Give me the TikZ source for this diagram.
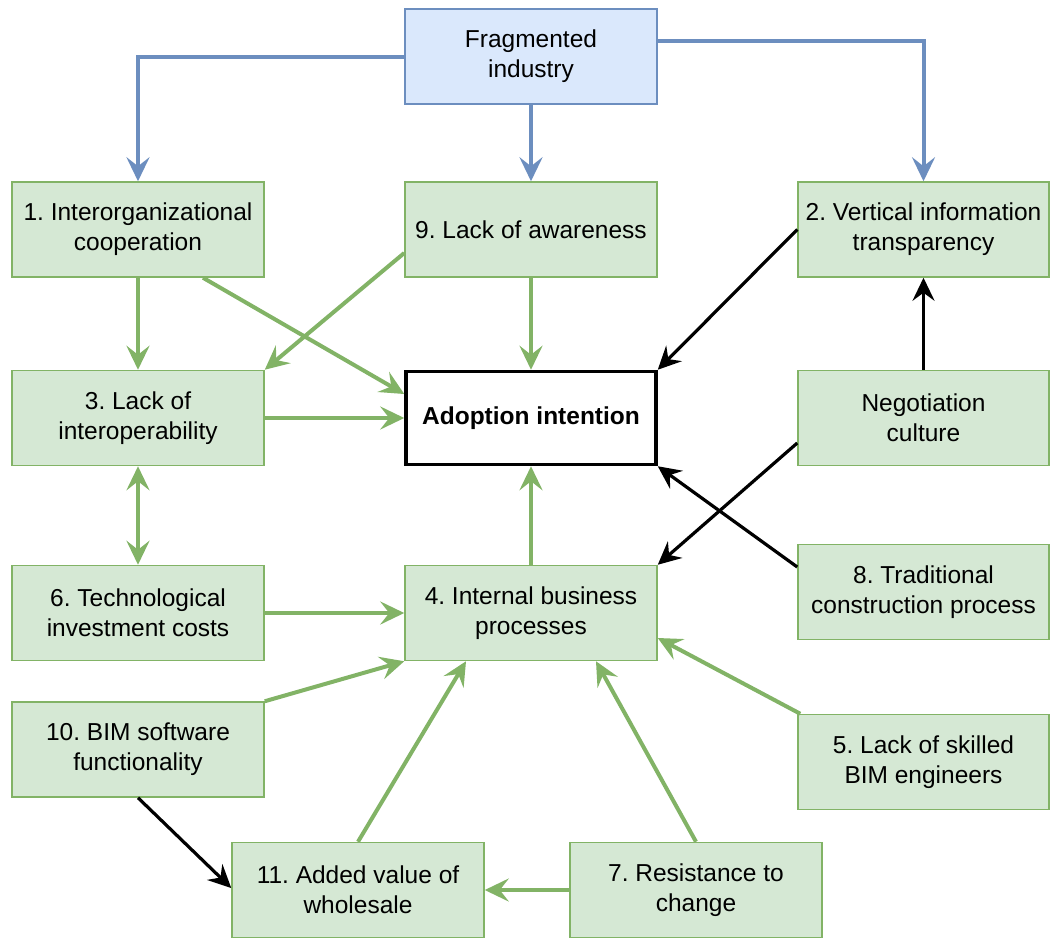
\documentclass[tikz,border=0pt]{standalone}
\usepackage{fontspec}
\setmainfont{Liberation Sans}
\usetikzlibrary{arrows.meta}
\definecolor{gline}{HTML}{82B366}
\definecolor{gfill}{HTML}{D5E8D4}
\definecolor{bline}{HTML}{6C8EBF}
\definecolor{bfill}{HTML}{DAE8FC}
\frenchspacing
\begin{document}
\begin{tikzpicture}[x=1pt,y=-1pt,
  box/.style={draw=gline,fill=gfill,line width=1.5pt,minimum width=252pt,minimum height=95pt,inner sep=2pt,align=center,font=\fontsize{24.5}{30}\selectfont},
  bluebox/.style={box,draw=bline,fill=bfill},
  adoptbox/.style={box,draw=black,fill=white,line width=3.5pt,minimum width=250pt,minimum height=93pt,font=\fontsize{24.5}{30}\selectfont\bfseries},
  tip/.style={-{Stealth[length=24pt,width=23pt,inset=9pt]}},
  garrow/.style={tip,draw=gline,line width=4pt},
  barrow/.style={tip,draw=bline,line width=4pt},
  karrow/.style={-{Stealth[length=23pt,width=22pt,inset=8pt]},draw=black,line width=3.2pt},
]
\useasboundingbox (0,0) rectangle (1051,937);
\node[bluebox] (frag) at (531,56.5) {Fragmented\\industry};
\node[box] (n1) at (138,229.5) {1. Interorganizational\\cooperation};
\node[box] (n9) at (531,229.5) {9. Lack of awareness};
\node[box,minimum width=251pt] (n2) at (923.5,229.5) {2. Vertical information\\transparency};
\node[box] (n3) at (138,418) {3. Lack of\\interoperability};
\node[adoptbox] (adopt) at (531,418) {Adoption intention};
\node[box,minimum width=251pt] (neg) at (923.5,418) {Negotiation\\culture};
\node[box] (n6) at (138,613) {6. Technological\\investment costs};
\node[box] (n4) at (531,613) {4. Internal business\\processes};
\node[box,minimum width=251pt] (n8) at (923.5,592) {8. Traditional\\construction process};
\node[box] (n10) at (138,749.5) {10. BIM software\\functionality};
\node[box,minimum width=251pt] (n5) at (923.5,762) {5. Lack of skilled\\BIM engineers};
\node[box] (n11) at (358,890) {11. Added value of\\wholesale};
\node[box] (n7) at (696,890) {7. Resistance to\\change};

% blue
\draw[barrow] (frag.west) -| (n1.north);
\draw[barrow] ([yshift=15.5pt]frag.east) -| (n2.north);
\draw[barrow] (frag.south) -- (n9.north);

% green
\draw[garrow] (n1.south) -- (n3.north);
\draw[garrow] ([xshift=65pt]n1.south) -- ([yshift=24pt]adopt.west);
\draw[garrow] ([yshift=-23.5pt]n9.west) -- (n3.north east);
\draw[garrow] (n9.south) -- (adopt.north);
\draw[garrow] (n3.east) -- (adopt.west);
\draw[garrow,{Stealth[length=24pt,width=23pt,inset=9pt]}-{Stealth[length=24pt,width=23pt,inset=9pt]}] (n3.south) -- (n6.north);
\draw[garrow] (n4.north) -- (adopt.south);
\draw[garrow] (n6.east) -- (n4.west);
\draw[garrow] (n10.north east) -- (n4.south west);
\draw[garrow] (n11.north) -- ([xshift=-65pt]n4.south);
\draw[garrow] (n7.north) -- ([xshift=65pt]n4.south);
\draw[garrow] ([xshift=3pt]n5.north west) -- ([yshift=-25pt]n4.east);
\draw[garrow] (n7.west) -- (n11.east);

% black
\draw[karrow] (n2.west) -- (adopt.north east);
\draw[karrow] (neg.north) -- (n2.south);
\draw[karrow] ([yshift=-25pt]neg.west) -- (n4.north east);
\draw[karrow] ([yshift=25pt]n8.west) -- (adopt.south east);
\draw[karrow] (n10.south) -- ([yshift=2pt]n11.west);
\end{tikzpicture}
\end{document}
